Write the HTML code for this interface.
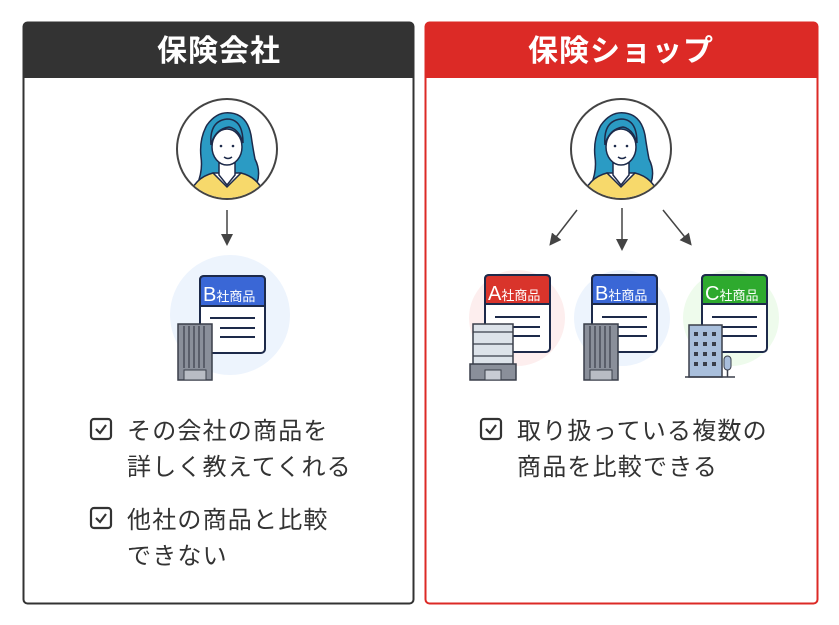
<!DOCTYPE html>
<html><head><meta charset="utf-8"><style>
body{margin:0;background:#fff;}
svg{display:block;font-family:"Liberation Sans","Noto Sans CJK JP",sans-serif;}
.t{font-size:24px;fill:#333;letter-spacing:1.2px;}
</style></head><body>
<svg width="839" height="625" viewBox="0 0 839 625">
<defs>
<g id="person">
  <circle cx="0" cy="0" r="50" fill="#fff" stroke="#444" stroke-width="2"/>
  <clipPath id="cp"><circle cx="0" cy="0" r="49"/></clipPath>
  <g clip-path="url(#cp)">
    <path d="M-30,36 Q-24,22 -26,8 Q-28,-10 -20,-24 Q-10,-38 4,-36 Q20,-34 24,-14 Q26,0 28,10 Q34,22 30,34 Q20,30 14,24 L-14,24 Q-20,32 -30,36 Z" fill="#2b9bc4" stroke="#1d2a4a" stroke-width="1.5"/>
    <path d="M-40,60 Q-38,30 -14,24 L0,38 L14,24 Q38,30 40,60 Z" fill="#f7d96b" stroke="#1d2a4a" stroke-width="1.5"/>
    <path d="M-8,14 L-8,26 L0,36 L8,26 L8,14 Z" fill="#fff" stroke="#1d2a4a" stroke-width="1.5"/>
    <ellipse cx="0" cy="-2" rx="15" ry="18" fill="#fff" stroke="#1d2a4a" stroke-width="1.5"/>
    <path d="M-16,-4 Q-12,-20 2,-22 Q12,-20 16,-6 Q16,-30 0,-30 Q-18,-28 -16,-4Z" fill="#2b9bc4" stroke="#1d2a4a" stroke-width="1.5"/>
    <path d="M-3,8 Q1,11 5,8" fill="none" stroke="#1d2a4a" stroke-width="1.5"/>
    <circle cx="-6" cy="-3" r="1.3" fill="#1d2a4a"/><circle cx="6" cy="-3" r="1.3" fill="#1d2a4a"/>
  </g>
</g>
<marker id="ah" markerWidth="8" markerHeight="8" refX="4" refY="4" orient="auto"><path d="M0,0 L8,4 L0,8 Z" fill="#444"/></marker>
<g id="doc">
  <rect x="0" y="0" width="65" height="77" rx="4" fill="#fff" stroke="#1d2a4a" stroke-width="2"/>
  <line x1="10" y1="42" x2="55" y2="42" stroke="#1d2a4a" stroke-width="2"/>
  <line x1="20" y1="52" x2="55" y2="52" stroke="#1d2a4a" stroke-width="2"/>
  <line x1="20" y1="61" x2="55" y2="61" stroke="#1d2a4a" stroke-width="2"/>
</g>
<g id="tower">
  <rect x="0" y="0" width="34" height="56" fill="#8a8f9a" stroke="#3a3f4a" stroke-width="1.5"/>
  <path d="M6,2V44M11,2V44M16,2V44M21,2V44M26,2V44" stroke="#3a3f4a" stroke-width="1.2"/>
  <rect x="6" y="46" width="22" height="10" fill="#b8bcc4" stroke="#3a3f4a"/>
</g>
<g id="chk">
  <rect x="1" y="1" width="20" height="20" rx="3" fill="none" stroke="#333" stroke-width="2.2"/>
  <path d="M6,11 L10,15 L16,7" fill="none" stroke="#333" stroke-width="2.2"/>
</g>
</defs>

<rect x="23.5" y="22.5" width="390" height="581" rx="4" fill="#fff" stroke="#333" stroke-width="2"/>
<path d="M23,78 V27 Q23,22 28,22 H409 Q414,22 414,27 V78 Z" fill="#333"/>
<text x="219" y="61" text-anchor="middle" font-size="30" font-weight="bold" fill="#fff" letter-spacing="1">保険会社</text>
<use href="#person" x="227" y="149"/>
<line x1="227" y1="210" x2="227" y2="240" stroke="#444" stroke-width="1.5" marker-end="url(#ah)"/>
<circle cx="230" cy="315" r="60" fill="#edf4fd"/>
<use href="#doc" x="200" y="276"/>
<path d="M204,276 H261 Q265,276 265,280 V306 H200 V280 Q200,276 204,276Z" fill="#3a67d6" stroke="#1d2a4a" stroke-width="2"/>
<text x="203" y="301" font-size="20" fill="#fff">B<tspan font-size="13">社商品</tspan></text>
<use href="#tower" x="178" y="324"/>
<use href="#chk" x="90" y="418"/>
<text class="t" x="127" y="439">その会社の商品を</text>
<text class="t" x="127" y="475">詳しく教えてくれる</text>
<use href="#chk" x="90" y="507"/>
<text class="t" x="127" y="528">他社の商品と比較</text>
<text class="t" x="127" y="564">できない</text>

<rect x="425.5" y="22.5" width="392" height="581" rx="4" fill="#fff" stroke="#dc2a26" stroke-width="2"/>
<path d="M425,78 V27 Q425,22 430,22 H813 Q818,22 818,27 V78 Z" fill="#dc2a26"/>
<text x="621" y="61" text-anchor="middle" font-size="30" font-weight="bold" fill="#fff" letter-spacing="1">保険ショップ</text>
<use href="#person" x="621" y="149"/>
<line x1="577" y1="210" x2="553" y2="241" stroke="#444" stroke-width="1.5" marker-end="url(#ah)"/>
<line x1="622" y1="208" x2="622" y2="245" stroke="#444" stroke-width="1.5" marker-end="url(#ah)"/>
<line x1="663" y1="210" x2="688" y2="241" stroke="#444" stroke-width="1.5" marker-end="url(#ah)"/>

<circle cx="517" cy="318" r="48" fill="#fdeeee"/>
<circle cx="622" cy="318" r="48" fill="#edf4fd"/>
<circle cx="731" cy="318" r="48" fill="#eefbec"/>

<use href="#doc" x="485" y="275"/>
<path d="M489,275 H546 Q550,275 550,279 V304 H485 V279 Q485,275 489,275Z" fill="#d9342b" stroke="#1d2a4a" stroke-width="2"/>
<text x="488" y="300" font-size="20" fill="#fff">A<tspan font-size="13">社商品</tspan></text>
<g transform="translate(473,324)">
  <rect x="0" y="0" width="40" height="48" fill="#dde3ea" stroke="#3a3f4a" stroke-width="1.5"/>
  <path d="M0,8H40M0,20H40M0,32H40" stroke="#3a3f4a" stroke-width="1.2"/>
  <rect x="-3" y="40" width="46" height="16" fill="#8a8f9a" stroke="#3a3f4a" stroke-width="1.5"/>
  <rect x="12" y="46" width="16" height="10" fill="#c8ccd4" stroke="#3a3f4a"/>
</g>

<use href="#doc" x="592" y="275"/>
<path d="M596,275 H653 Q657,275 657,279 V304 H592 V279 Q592,275 596,275Z" fill="#3a67d6" stroke="#1d2a4a" stroke-width="2"/>
<text x="595" y="300" font-size="20" fill="#fff">B<tspan font-size="13">社商品</tspan></text>
<use href="#tower" x="584" y="324"/>

<use href="#doc" x="702" y="275"/>
<path d="M706,275 H763 Q767,275 767,279 V304 H702 V279 Q702,275 706,275Z" fill="#2eaa2e" stroke="#1d2a4a" stroke-width="2"/>
<text x="705" y="300" font-size="20" fill="#fff">C<tspan font-size="13">社商品</tspan></text>
<g transform="translate(689,325)">
  <rect x="0" y="0" width="33" height="52" fill="#a9bfdc" stroke="#3a3f4a" stroke-width="1.5"/>
  <g fill="#3a3f4a">
    <rect x="5" y="7" width="4" height="4"/><rect x="14" y="7" width="4" height="4"/><rect x="23" y="7" width="4" height="4"/>
    <rect x="5" y="17" width="4" height="4"/><rect x="14" y="17" width="4" height="4"/><rect x="23" y="17" width="4" height="4"/>
    <rect x="5" y="27" width="4" height="4"/><rect x="14" y="27" width="4" height="4"/><rect x="23" y="27" width="4" height="4"/>
    <rect x="5" y="37" width="4" height="4"/><rect x="14" y="37" width="4" height="4"/><rect x="23" y="37" width="4" height="4"/>
  </g>
  <rect x="35" y="31" width="7" height="14" rx="3.5" fill="#a9bfdc" stroke="#3a3f4a"/>
  <line x1="38.5" y1="45" x2="38.5" y2="52" stroke="#3a3f4a" stroke-width="1.5"/>
  <line x1="-4" y1="52" x2="46" y2="52" stroke="#3a3f4a" stroke-width="1.5"/>
</g>

<use href="#chk" x="480" y="418"/>
<text class="t" x="517" y="439">取り扱っている複数の</text>
<text class="t" x="517" y="475">商品を比較できる</text>
</svg>
</body></html>
